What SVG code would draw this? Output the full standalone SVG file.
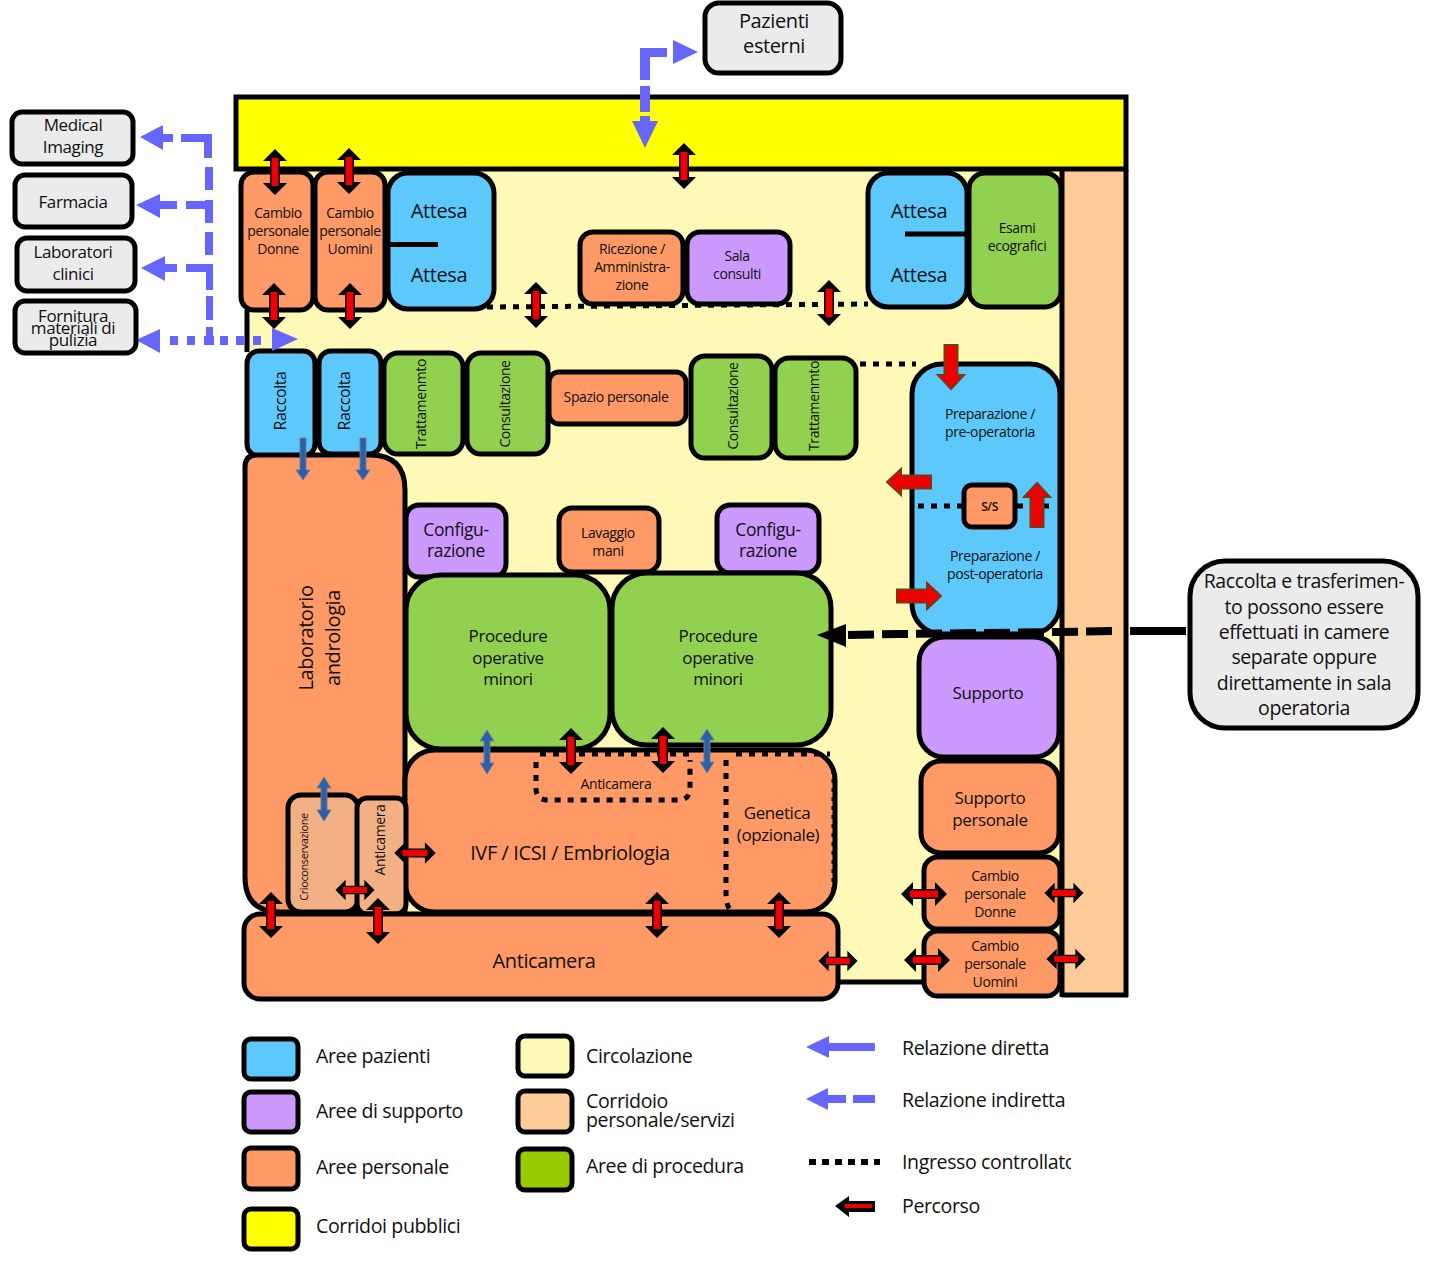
<svg xmlns="http://www.w3.org/2000/svg" width="1453" height="1286" viewBox="0 0 1453 1286">
<style>
text{font-family:"Open Sans","Noto Sans","Liberation Sans",sans-serif;fill:#111;text-anchor:middle;letter-spacing:-.4px}
.b{stroke:#000;stroke-width:5}
.pz{fill:#5CC8FC}.su{fill:#CC99FF}.pe{fill:#FF9966}.pr{fill:#92D050}.ye{fill:#FF0}.ci{fill:#FFF9B8}.co{fill:#FFCC99}.gr{fill:#EBEBEB}.lt{fill:#F2B084}
.l{text-anchor:start;font-size:19.600px}
.s14{font-size:14px}.s15{font-size:15px}.s16{font-size:16px}.s17{font-size:17px}.s175{font-size:17.500px}.s18{font-size:18px}.s195{font-size:19.500px}.s20{font-size:20px}
.dot{fill:none;stroke:#000;stroke-width:5;stroke-dasharray:6 7}
.ha{fill:#6666FF}
</style>
<defs>
<g id="dr"><path d="M0-23 12-11H5V11H12L0 23-12 11H-5V-11H-12Z" fill="#000"/><path d="M-3.500-14H3.500V14H-3.500Z" fill="#E00"/></g>
<g id="db"><path d="M0-22 7-11H3V11H7L0 22-7 11H-3V-11H-7Z" fill="#2D5FA8" stroke="#6E7F9A" stroke-width="1"/></g>
<g id="dbd"><path d="M-3-21H3V11H7L0 21-7 11H-3Z" fill="#2D5FA8" stroke="#6E7F9A" stroke-width="1"/></g>
<path id="ra" d="M-6.500-22H6.500V8H13L0 22-13 8H-6.500Z" fill="#E00" stroke="#7A3A10" stroke-width="2"/>
<clipPath id="clipc"><rect x="895" y="1145" width="176" height="35"/></clipPath>
</defs>

<g id="fondo">
<path d="M247 170H1062V982H300V500H247Z" class="ci"/>
<rect x="1062" y="170" width="64" height="825" class="co"/>
<path d="M1126 170V997M1062 170V997M1062 995H1128M840 982H925M247 310V352" fill="none" stroke="#000" stroke-width="5"/>
</g>
<g id="corridoi-pubblici"><rect x="236" y="97" width="890" height="72" class="ye b"/></g>

<g id="cambio-donne"><rect x="241" y="172" width="72" height="138" rx="13" class="pe b"/><text class="s14" x="278" y="218">Cambio</text><text class="s14" x="278" y="236">personale</text><text class="s14" x="278" y="254">Donne</text></g>
<g id="cambio-uomini"><rect x="315" y="172" width="70" height="138" rx="13" class="pe b"/><text class="s14" x="350" y="218">Cambio</text><text class="s14" x="350" y="236">personale</text><text class="s14" x="350" y="254">Uomini</text></g>
<g id="attesa-1"><rect x="388" y="173" width="106" height="136" rx="20" class="pz b"/><path d="M388 244.500H438" stroke="#000" stroke-width="5"/><text class="s20" x="439" y="218">Attesa</text><text class="s20" x="439" y="282">Attesa</text></g>
<g id="attesa-2"><rect x="868" y="173" width="99" height="134" rx="20" class="pz b"/><path d="M905 234H967" stroke="#000" stroke-width="5"/><text class="s20" x="919" y="218">Attesa</text><text class="s20" x="919" y="282">Attesa</text></g>
<g id="esami"><rect x="969" y="173" width="92" height="134" rx="16" class="pr b"/><text class="s14" x="1017" y="233">Esami</text><text class="s14" x="1017" y="251">ecografici</text></g>
<g id="ricezione"><rect x="580" y="232" width="103" height="72" rx="13" class="pe b"/><text class="s14" x="632" y="254">Ricezione /</text><text class="s14" x="632" y="272">Amministra-</text><text class="s14" x="632" y="290">zione</text></g>
<g id="sala"><rect x="687" y="232" width="103" height="72" rx="13" class="su b"/><text class="s14" x="737" y="261">Sala</text><text class="s14" x="737" y="279">consulti</text></g>

<g id="raccolta-1"><rect x="247" y="351" width="68" height="105" rx="12" class="pz b"/><text class="s16" transform="translate(286 401) rotate(-90)">Raccolta</text></g>
<g id="raccolta-2"><rect x="319" y="351" width="62" height="103" rx="12" class="pz b"/><text class="s16" transform="translate(350 401) rotate(-90)">Raccolta</text></g>
<g id="trattamento-1"><rect x="384" y="353" width="79" height="101" rx="14" class="pr b"/><text class="s14" transform="translate(426 404) rotate(-90)">Trattamenmto</text></g>
<g id="consultazione-1"><rect x="467" y="353" width="81" height="101" rx="14" class="pr b"/><text class="s14" transform="translate(510 404) rotate(-90)">Consultazione</text></g>
<g id="spazio"><rect x="549" y="372" width="137" height="52" rx="10" class="pe b"/><text class="s14" x="616" y="402">Spazio personale</text></g>
<g id="consultazione-2"><rect x="691" y="356" width="81" height="102" rx="14" class="pr b"/><text class="s14" transform="translate(738 406) rotate(-90)">Consultazione</text></g>
<g id="trattamento-2"><rect x="775" y="358" width="81" height="100" rx="14" class="pr b"/><text class="s14" transform="translate(819 406) rotate(-90)">Trattamenmto</text></g>

<g id="preparazione"><rect x="912" y="364" width="148" height="270" rx="30" class="pz b"/><text class="s14" x="990" y="419">Preparazione /</text><text class="s14" x="990" y="437">pre-operatoria</text><text class="s14" x="995" y="561">Preparazione /</text><text class="s14" x="995" y="579">post-operatoria</text></g>
<path id="dotted-ss" d="M918 506H964M1017 506H1054" class="dot"/>
<g id="ss"><rect x="964" y="485" width="51" height="42" rx="8" class="pe b"/><text font-size="12" font-weight="600" x="989.500" y="511">S/S</text></g>

<g id="laboratorio"><path d="M257 455H370Q405 455 405 490V912H280Q245 912 245 877V467Q245 455 257 455Z" class="pe b"/><text class="s20" transform="translate(313 638) rotate(-90)">Laboratorio</text><text class="s20" transform="translate(340 638) rotate(-90)">andrologia</text></g>
<g id="config-1"><rect x="406" y="505" width="100" height="72" rx="13" class="su b"/><text class="s175" x="456" y="536">Configu-</text><text class="s175" x="456" y="557">razione</text></g>
<g id="lavaggio"><rect x="559" y="508" width="100" height="64" rx="13" class="pe b"/><text class="s14" x="608" y="538">Lavaggio</text><text class="s14" x="608" y="556">mani</text></g>
<g id="config-2"><rect x="717" y="505" width="102" height="68" rx="13" class="su b"/><text class="s175" x="768" y="536">Configu-</text><text class="s175" x="768" y="557">razione</text></g>
<g id="procedure-1"><rect x="406" y="575" width="204" height="174" rx="35" class="pr b"/><text class="s17" x="508" y="642">Procedure</text><text class="s17" x="508" y="664">operative</text><text class="s17" x="508" y="685">minori</text></g>
<g id="procedure-2"><rect x="612" y="573" width="219" height="172" rx="35" class="pr b"/><text class="s17" x="718" y="642">Procedure</text><text class="s17" x="718" y="664">operative</text><text class="s17" x="718" y="685">minori</text></g>
<g id="ivf"><rect x="405" y="750" width="430" height="162" rx="30" class="pe b"/><text class="s20" x="570" y="860">IVF / ICSI / Embriologia</text><text class="s17" x="777" y="819">Genetica</text><text class="s17" x="778" y="841">(opzionale)</text>
<path d="M536 762V788Q536 800 548 800H678Q690 800 690 788V760" class="dot"/><path d="M726 760V895Q726 906 732 912" class="dot"/><path d="M540 754H690M736 754H830" class="dot"/><path d="M833 770V895" fill="none" stroke="#000" stroke-width="3" stroke-dasharray="4 5"/><text class="s14" x="616" y="789">Anticamera</text></g>
<g id="crioconservazione"><rect x="288" y="795" width="70" height="117" rx="13" class="lt b"/><text font-size="11" transform="translate(308 857) rotate(-90)">Crioconservazione</text></g>
<g id="anticamera-crio"><rect x="357" y="798" width="49" height="116" rx="10" class="lt b"/><text class="s14" transform="translate(385 840) rotate(-90)">Anticamera</text></g>
<g id="anticamera"><rect x="244" y="914" width="594" height="85" rx="16" class="pe b"/><text class="s20" x="544" y="968">Anticamera</text></g>
<g id="supporto"><rect x="919" y="637" width="140" height="120" rx="25" class="su b"/><text class="s17" x="988" y="699">Supporto</text></g>
<g id="supporto-personale"><rect x="921" y="761" width="138" height="92" rx="20" class="pe b"/><text class="s17" x="990" y="804">Supporto</text><text class="s17" x="990" y="826">personale</text></g>
<g id="cambio-donne-2"><rect x="924" y="857" width="136" height="72" rx="14" class="pe b"/><text class="s14" x="995" y="881">Cambio</text><text class="s14" x="995" y="899">personale</text><text class="s14" x="995" y="917">Donne</text></g>
<g id="cambio-uomini-2"><rect x="924" y="931" width="136" height="65" rx="14" class="pe b"/><text class="s14" x="995" y="951">Cambio</text><text class="s14" x="995" y="969">personale</text><text class="s14" x="995" y="987">Uomini</text></g>

<g id="connettori">
<path d="M487 307 868 304" class="dot"/>
<path d="M860 364H916" class="dot"/>
<path d="M1186 631H1132M1112 631 1060 632 900 634 846 635" fill="none" stroke="#000" stroke-width="8" stroke-dasharray="26 8"/>
<path d="M1186 631H1130" stroke="#000" stroke-width="8"/>
<path d="M817 635 846 624V647Z" fill="#000"/>
<path id="relazioni" class="ha" d="M140 137 163 125V150ZM163 134H173V142H163ZM181 134H212V158H204V142H181ZM205 167H213V190H205ZM136 205 160 194V218ZM160 201H177V209H160ZM186 201H205V200H213V223H205V209H186ZM205 232H213V255H205ZM141 268 165 256V281ZM165 264H177V272H165ZM186 264H213V290H206V272H186ZM206 296H213V320H206ZM206 327H213V336H206ZM136 340 160 329V353ZM170 336H178V345H170ZM187 336H195V345H187ZM204 336H214V345H204ZM220 336H228V345H220ZM236 336H244V345H236ZM253 336H261V345H253ZM298 339 272 328V351ZM698 52 673 40V64ZM645 148 632 121H658ZM640 48H667V57H650V80H640ZM640 86H650V112H640ZM640 116H650V122H640Z"/>
<use href="#dr" x="275" y="172"/><use href="#dr" x="349" y="171"/><use href="#dr" x="274" y="306"/><use href="#dr" x="350" y="306"/><use href="#dr" x="684" y="166"/><use href="#dr" x="536" y="305"/><use href="#dr" x="829" y="303"/>
<use href="#dr" x="571" y="751"/><use href="#dr" x="663" y="750"/><use href="#dr" x="271" y="915"/><use href="#dr" x="378" y="921"/><use href="#dr" x="657" y="915"/><use href="#dr" x="779" y="915"/>
<use href="#dr" transform="translate(415 853) rotate(90) scale(.9)"/><use href="#dr" transform="translate(355 890) rotate(90) scale(.85)"/><use href="#dr" transform="translate(838 961) rotate(90) scale(.85)"/>
<use href="#dr" transform="translate(924 894) rotate(90)"/><use href="#dr" transform="translate(1064 893) rotate(90) scale(.85)"/><use href="#dr" transform="translate(927 960) rotate(90)"/><use href="#dr" transform="translate(1066 959) rotate(90) scale(.85)"/>
<use href="#dbd" x="303" y="459"/><use href="#dbd" x="363" y="459"/><use href="#db" x="487" y="752"/><use href="#db" x="707" y="751"/><use href="#db" x="324" y="799"/>
<use href="#ra" x="951" y="367"/><use href="#ra" transform="translate(909 482) rotate(90)"/><use href="#ra" transform="translate(1037 505) rotate(180)"/><use href="#ra" transform="translate(919 596) rotate(-90)"/>
</g>

<g id="pazienti-esterni"><rect x="705" y="3" width="136" height="70" rx="14" class="gr b"/><text class="s20" x="774" y="28">Pazienti</text><text class="s20" x="774" y="53">esterni</text></g>
<g id="medical"><rect x="12" y="112" width="121" height="52" rx="10" class="gr b"/><text class="s17" x="73" y="131">Medical</text><text class="s17" x="73" y="153">Imaging</text></g>
<g id="farmacia"><rect x="15" y="175" width="117" height="52" rx="10" class="gr b"/><text class="s17" x="73" y="208">Farmacia</text></g>
<g id="laboratori"><rect x="17" y="238" width="118" height="53" rx="10" class="gr b"/><text class="s17" x="73" y="258">Laboratori</text><text class="s17" x="73" y="280">clinici</text></g>
<g id="fornitura"><rect x="15" y="301" width="121" height="52" rx="10" class="gr b"/><text class="s17" x="73" y="322">Fornitura</text><text class="s17" x="73" y="334">materiali di</text><text class="s17" x="73" y="346">pulizia</text></g>
<g id="nota"><rect x="1190" y="561" width="228" height="167" rx="35" class="gr b"/>
<text class="s195" x="1304" y="588">Raccolta e trasferimen-</text><text class="s195" x="1304" y="614">to possono essere</text><text class="s195" x="1304" y="639">effettuati in camere</text><text class="s195" x="1304" y="664">separate oppure</text><text class="s195" x="1304" y="690">direttamente  in sala</text><text class="s195" x="1304" y="715">operatoria</text></g>

<g id="legenda">
<rect x="244" y="1039" width="54" height="40" rx="7" class="pz b"/><text class="l" x="316" y="1063">Aree pazienti</text>
<rect x="244" y="1092" width="54" height="40" rx="7" class="su b"/><text class="l" x="316" y="1118">Aree di supporto</text>
<rect x="244" y="1148" width="54" height="41" rx="7" class="pe b"/><text class="l" x="316" y="1174">Aree personale</text>
<rect x="244" y="1209" width="54" height="40" rx="7" class="ye b"/><text class="l" x="316" y="1233">Corridoi pubblici</text>
<rect x="518" y="1036" width="54" height="40" rx="7" class="ci b"/><text class="l" x="586" y="1063">Circolazione</text>
<rect x="518" y="1091" width="54" height="41" rx="7" class="co b"/><text class="l" x="586" y="1108">Corridoio</text><text class="l" x="586" y="1127">personale/servizi</text>
<rect x="518" y="1149" width="54" height="41" rx="7" fill="#99CC00" class="b"/><text class="l" x="586" y="1173">Aree di procedura</text>
<path d="M806 1047 829 1036V1058Z" class="ha"/><rect x="828" y="1043" width="47" height="8" class="ha"/>
<path d="M806 1099 828 1088V1110Z" class="ha"/><rect x="828" y="1095" width="18" height="8" class="ha"/><rect x="853" y="1095" width="22" height="8" class="ha"/>
<path d="M809 1162H880" stroke="#000" stroke-width="6" stroke-dasharray="7 6" fill="none"/>
<path d="M835 1206 849 1196V1201H875V1212H849V1217Z" fill="#000"/><rect x="845" y="1204" width="27" height="4" fill="#E00"/>
<text class="l" x="902" y="1055">Relazione diretta</text><text class="l" x="902" y="1107">Relazione indiretta</text><text class="l" x="902" y="1169" clip-path="url(#clipc)">Ingresso controllato</text><text class="l" x="902" y="1213">Percorso</text>
</g>
</svg>
